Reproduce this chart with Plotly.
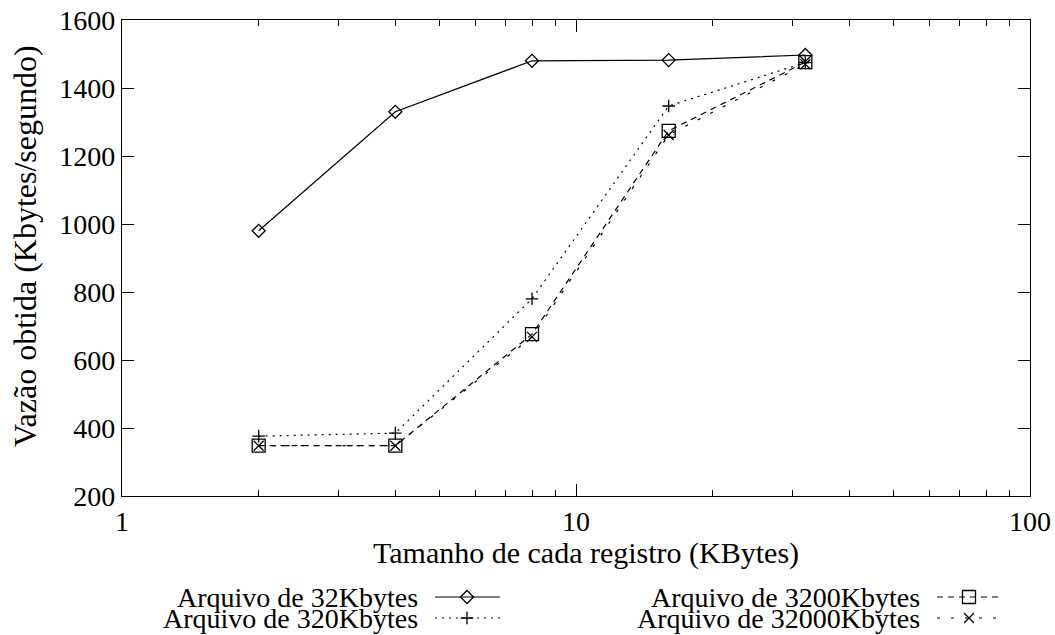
import plotly.graph_objects as go

# Throughput measured for each record size, one series per file size
record_kb = [2, 4, 8, 16, 32]
file_32k = [980, 1330, 1480, 1482, 1497]
file_320k = [376, 385, 780, 1347, 1475]
file_3200k = [348, 348, 676, 1274, 1476]
file_32000k = [348, 348, 668, 1262, 1470]

series_names = [
    "Arquivo de 32Kbytes",
    "Arquivo de 320Kbytes",
    "Arquivo de 3200Kbytes",
    "Arquivo de 32000Kbytes",
]
x_ticks = [1, 10, 100]
y_ticks = [200, 400, 600, 800, 1000, 1200, 1400, 1600]

W, H = 1055, 635
FONT = "'Liberation Serif', 'DejaVu Serif', serif"
BLACK = "#000000"

# figure pixel -> paper helpers (margins are zero, so paper == page)
def px(x):
    return x / W

def py(y):
    return 1 - y / H

styles = [
    dict(dash="solid", symbol="diamond-open", size=10),
    dict(dash="2px,5px", symbol="cross-thin-open", size=9),
    dict(dash="6px,5px", symbol="square-open", size=13),
    dict(dash="3px,11px", symbol="x-thin-open", size=10),
]
values = [file_32k, file_320k, file_3200k, file_32000k]

fig = go.Figure()
for name, ys, st in zip(series_names, values, styles):
    fig.add_trace(go.Scatter(
        x=record_kb, y=ys, name=name, mode="lines+markers",
        line=dict(color=BLACK, width=1.2, dash=st["dash"]),
        marker=dict(symbol=st["symbol"], size=st["size"], color=BLACK,
                    line=dict(color=BLACK, width=1.3)),
        showlegend=False, xaxis="x", yaxis="y",
    ))

# Key drawn below the plot: label text on the left, line sample on the right
key_row_y = [597, 618, 597, 618]
key_col = [0, 0, 1, 1]
key_text_right = [420, 922]
key_sample = [(435, 500, 467), (937, 1002, 969)]
for i, (name, st) in enumerate(zip(series_names, styles)):
    row_y = key_row_y[i]
    col = key_col[i]
    x0, x1, xm = key_sample[col]
    fig.add_trace(go.Scatter(
        x=[x0, x1], y=[row_y, row_y], mode="lines",
        line=dict(color=BLACK, width=1.2, dash=st["dash"]),
        showlegend=False, hoverinfo="skip", xaxis="x2", yaxis="y2",
    ))
    fig.add_trace(go.Scatter(
        x=[xm], y=[row_y], mode="markers",
        marker=dict(symbol=st["symbol"], size=st["size"], color=BLACK,
                    line=dict(color=BLACK, width=1.3)),
        showlegend=False, hoverinfo="skip", xaxis="x2", yaxis="y2",
    ))
    fig.add_annotation(
        text=name, x=px(key_text_right[col]), y=py(row_y),
        xref="paper", yref="paper", xanchor="right", yanchor="middle",
        showarrow=False, font=dict(family=FONT, size=28, color=BLACK),
    )

axis_common = dict(
    showgrid=False, zeroline=False, showline=True, linecolor=BLACK,
    linewidth=1.3, mirror="allticks", ticks="inside", ticklen=12,
    tickwidth=1, tickcolor=BLACK,
    tickfont=dict(family=FONT, size=28, color=BLACK),
)

fig.update_layout(
    width=W, height=H,
    margin=dict(l=0, r=0, t=0, b=0),
    paper_bgcolor="white", plot_bgcolor="white",
    font=dict(family=FONT, color=BLACK),
    xaxis=dict(
        type="log", range=[0, 2], domain=[px(122), px(1030)],
        tickmode="array", tickvals=x_ticks, ticktext=[str(v) for v in x_ticks],
        minor=dict(ticks="inside", ticklen=6, tickcolor=BLACK, tickwidth=1,
                   tickmode="array",
                   tickvals=[2, 3, 4, 5, 6, 7, 8, 9, 20, 30, 40, 50, 60, 70, 80, 90],
                   showgrid=False),
        anchor="y", automargin=False,
        **axis_common,
    ),
    yaxis=dict(
        range=[200, 1600], domain=[1 - 496 / H, 1 - 20 / H],
        tickmode="array", tickvals=y_ticks,
        anchor="x", automargin=False,
        **axis_common,
    ),
    xaxis2=dict(range=[0, W], domain=[0, 1], visible=False, anchor="y2",
                fixedrange=True),
    yaxis2=dict(range=[H, H - 60], domain=[0, 60 / H], visible=False,
                anchor="x2", fixedrange=True),
    showlegend=False,
)

# Axis titles
fig.add_annotation(
    text="Tamanho de cada registro (KBytes)", x=px(586), y=py(553),
    xref="paper", yref="paper", xanchor="center", yanchor="middle",
    showarrow=False, font=dict(family=FONT, size=30, color=BLACK),
)
fig.add_annotation(
    text="Vazão obtida (Kbytes/segundo)", x=px(25), y=py(246),
    xref="paper", yref="paper", xanchor="center", yanchor="middle",
    textangle=-90, showarrow=False,
    font=dict(family=FONT, size=32, color=BLACK),
)

fig.write_html("out.html")
